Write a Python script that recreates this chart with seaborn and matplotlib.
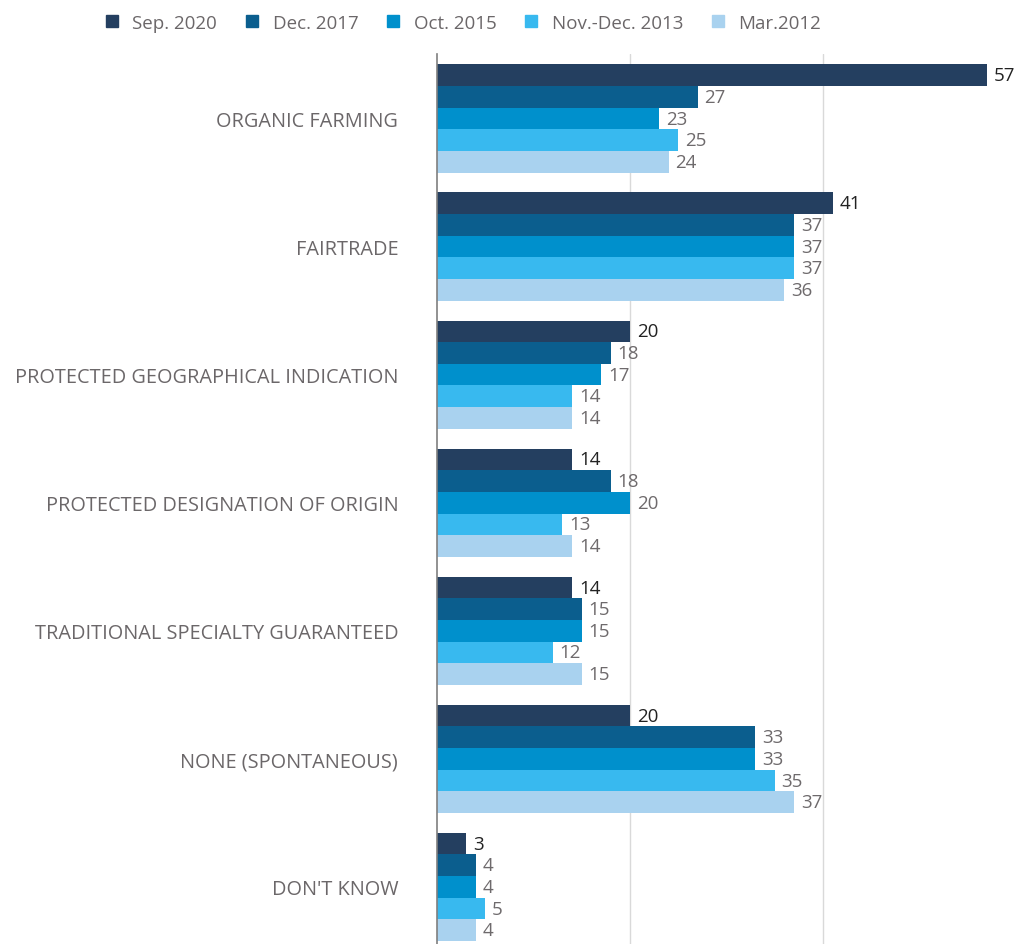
import pandas as pd
import matplotlib
matplotlib.use('Agg')
import matplotlib.pyplot as plt
import seaborn as sns
from matplotlib.lines import Line2D

# Data
categories = ['ORGANIC FARMING', 'FAIRTRADE', 'PROTECTED GEOGRAPHICAL INDICATION',
              'PROTECTED DESIGNATION OF ORIGIN', 'TRADITIONAL SPECIALTY GUARANTEED',
              'NONE (SPONTANEOUS)', "DON'T KNOW"]
waves = ['Sep. 2020', 'Dec. 2017', 'Oct. 2015', 'Nov.-Dec. 2013', 'Mar.2012']
sep_2020 = [57, 41, 20, 14, 14, 20, 3]
dec_2017 = [27, 37, 18, 18, 15, 33, 4]
oct_2015 = [23, 37, 17, 20, 15, 33, 4]
nov_dec_2013 = [25, 37, 14, 13, 12, 35, 5]
mar_2012 = [24, 36, 14, 14, 15, 37, 4]
colors = ['#243F60', '#0B5E8E', '#0090CC', '#38B9EF', '#A9D2EF']

series = [sep_2020, dec_2017, oct_2015, nov_dec_2013, mar_2012]
rows = []
for wave, vals in zip(waves, series):
    for cat, v in zip(categories, vals):
        rows.append({'Category': cat, 'Wave': wave, 'Value': v})
df = pd.DataFrame(rows)

sns.set_style('white')
plt.rcParams['font.family'] = ['Open Sans', 'DejaVu Sans']

fig = plt.figure(figsize=(10.18, 9.45), dpi=100)
ax = fig.add_axes([0.4293, -0.0074, 0.5687, 0.9487])

sns.barplot(data=df, y='Category', x='Value', hue='Wave', order=categories,
            hue_order=waves, palette=colors, orient='h', width=0.845,
            saturation=1, linewidth=0, ax=ax, legend=False)

for i, cont in enumerate(ax.containers):
    ax.bar_label(cont, padding=5, fontsize=13.5,
                 color='#222222' if i == 0 else '#6E6A6C')

ax.set_xlim(0, 60)
ax.set_xticks([20, 40])
ax.set_xticklabels([])
ax.xaxis.grid(True, color='#D9D9D9', linewidth=1)
ax.set_axisbelow(True)
ax.set_xlabel('')
ax.set_ylabel('')
ax.tick_params(axis='y', length=0, pad=28, labelsize=14.3, labelcolor='#6B6769')
ax.tick_params(axis='x', length=0)
for s in ['top', 'right', 'bottom']:
    ax.spines[s].set_visible(False)
ax.spines['left'].set_color('#7F7F7F')
ax.spines['left'].set_linewidth(1.2)

handles = [Line2D([], [], marker='s', linestyle='', markersize=8, color=c) for c in colors]
fig.legend(handles, waves, loc='center', bbox_to_anchor=(0.449, 0.975), ncol=5,
           frameon=False, fontsize=13.5, handletextpad=0.1, columnspacing=0.85,
           labelcolor='#6B6769')

fig.savefig('out.png', dpi=100)
